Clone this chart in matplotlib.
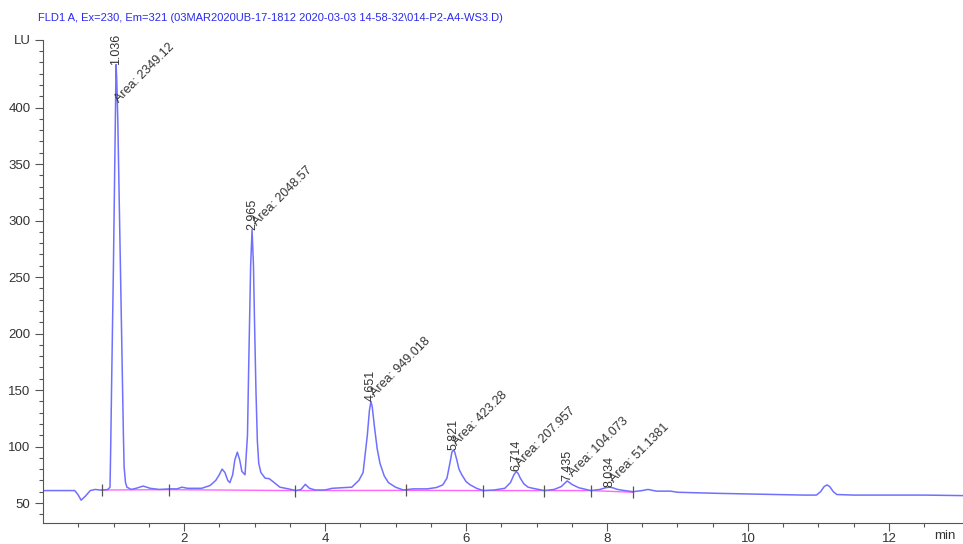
import matplotlib.pyplot as plt
import numpy as np

plt.rcParams['font.family'] = ['Liberation Sans', 'DejaVu Sans']

title = r'FLD1 A, Ex=230, Em=321 (03MAR2020UB-17-1812 2020-03-03 14-58-32\014-P2-A4-WS3.D)'

# trace (min, LU)
t = [0.00, 0.45, 0.50, 0.54, 0.60, 0.67, 0.74, 0.80, 0.86, 0.92, 0.95,
     0.96, 0.975, 0.997, 1.015, 1.028, 1.036, 1.045, 1.06, 1.08, 1.10,
     1.125, 1.14, 1.15, 1.17, 1.19, 1.25,
     1.32, 1.42, 1.52, 1.65, 1.80, 1.90, 1.97, 2.05, 2.15, 2.25, 2.37, 2.45,
     2.50, 2.54, 2.58, 2.62, 2.65, 2.69, 2.72, 2.756, 2.79, 2.82, 2.865,
     2.90, 2.92, 2.945, 2.965, 2.985, 3.00, 3.02, 3.04, 3.06,
     3.09, 3.15, 3.21, 3.28, 3.36, 3.48, 3.59, 3.66, 3.72, 3.78,
     3.86, 4.00, 4.10, 4.25, 4.38, 4.48, 4.54, 4.60, 4.63, 4.651, 4.67, 4.70,
     4.74, 4.78, 4.84, 4.90,
     5.00, 5.11, 5.25, 5.45, 5.58, 5.67, 5.73, 5.78, 5.80, 5.821, 5.84, 5.87,
     5.90, 5.94, 6.00, 6.06,
     6.15, 6.24, 6.40, 6.55, 6.63, 6.68, 6.714, 6.74, 6.77, 6.82, 6.88, 6.95,
     7.11, 7.25, 7.35, 7.40, 7.435, 7.47, 7.50, 7.55, 7.60, 7.77, 7.90, 7.98,
     8.034, 8.08, 8.15, 8.25,
     8.37, 8.50, 8.58, 8.70, 8.90, 9.00, 9.30, 9.60, 10.00, 10.40, 10.80,
     10.97, 11.03, 11.08, 11.12, 11.16, 11.21, 11.26, 11.50, 12.00, 12.50, 13.10]
lu = [61.0, 61.0, 57.0, 52.5, 56.0, 61.0, 62.0, 61.5, 61.5, 62.0, 64.0,
      100.0, 165.0, 253.0, 340.0, 410.0, 438.0, 425.0, 390.0, 320.0, 245.0,
      165.0, 110.0, 82.0, 68.0, 64.0, 62.0,
      63.0, 65.0, 63.0, 62.0, 62.5, 62.5, 64.0, 63.0, 63.0, 63.0, 65.5, 70.0,
      75.0, 80.0, 77.0, 70.0, 68.0, 75.0, 88.0, 95.0, 88.0, 78.0, 75.0,
      110.0, 180.0, 260.0, 292.0, 260.0, 210.0, 150.0, 105.0, 85.0,
      77.0, 72.0, 71.5, 68.0, 64.0, 62.5, 61.0, 62.0, 66.5, 63.0,
      61.5, 61.5, 63.0, 63.5, 64.0, 70.0, 77.0, 110.0, 132.0, 140.0, 135.0, 118.0,
      98.0, 85.0, 74.0, 68.0,
      64.0, 61.5, 62.5, 62.5, 63.7, 66.0, 72.0, 88.0, 95.0, 97.0, 95.0, 88.0,
      80.0, 75.0, 69.0, 66.0,
      63.0, 61.0, 61.5, 63.0, 68.0, 75.0, 78.0, 76.0, 72.0, 67.0, 64.0, 63.0,
      61.0, 62.0, 64.5, 67.5, 69.5, 68.0, 66.5, 65.0, 63.5, 61.0, 62.0, 63.5,
      64.0, 63.5, 62.0, 61.0,
      60.0, 61.0, 62.0, 60.5, 60.5, 59.5, 59.0, 58.5, 58.0, 57.5, 57.0,
      57.0, 60.0, 64.5, 66.0, 64.5, 60.0, 57.5, 57.0, 57.0, 57.0, 56.5]

# integrated peaks
rt = [1.036, 2.965, 4.651, 5.821, 6.714, 7.435, 8.034]
height = [438.0, 292.0, 140.0, 97.0, 78.0, 69.5, 64.0]
rt_labels = ['1.036', '2.965', '4.651', '5.821', '6.714', '7.435', '8.034']
area_labels = ['Area: 2349.12', 'Area: 2048.57', 'Area: 949.018',
               'Area: 423.28', 'Area: 207.957', 'Area: 104.073', 'Area: 51.1381']

# integration baseline and its boundaries
bound_t = [0.83, 1.79, 3.57, 5.15, 6.24, 7.11, 7.77, 8.37]
bound_lu = [61.5, 61.8, 61.0, 61.2, 61.0, 61.0, 61.0, 59.5]

area_offset = [(5, -41), (7, 1), (6, 2), (6, 2), (6, 2), (8, 2), (7, 2)]

fig = plt.figure(figsize=(9.63, 5.44), dpi=100)
ax = fig.add_axes([0.0447, 0.0386, 0.9553, 0.8884])

ax.plot(bound_t, bound_lu, color='#ff66ff', lw=1.0, zorder=1)
ax.plot(t, lu, color='#7070ff', lw=1.1, zorder=2)
ax.plot(bound_t, bound_lu, ls='none', marker='|', ms=8, mew=0.9,
        color='#555555', zorder=3)

for x, h, s, a, off in zip(rt, height, rt_labels, area_labels, area_offset):
    ax.text(x, h, s, rotation=90, ha='center', va='bottom',
            fontsize=9, color='#333333')
    ax.annotate(a, (x, h), xytext=off, textcoords='offset pixels',
                rotation=45, rotation_mode='anchor', ha='left', va='bottom',
                fontsize=9, color='#333333')

ax.set_xlim(0, 13.05)
ax.set_ylim(32.3, 460)
ax.set_xticks([2, 4, 6, 8, 10, 12])
ax.set_xticks(np.arange(0.5, 13.0, 0.5), minor=True)
ax.set_yticks([50, 100, 150, 200, 250, 300, 350, 400, 460])
ax.set_yticklabels(['50', '100', '150', '200', '250', '300', '350', '400', 'LU'])
ax.set_yticks(np.arange(40, 460, 10), minor=True)
ax.tick_params(which='major', length=6, width=0.8, color='#555555',
               labelsize=9.5, labelcolor='#333333', pad=3)
ax.tick_params(axis='x', which='major', pad=1)
ax.tick_params(which='minor', length=3, width=0.8, color='#555555')
ax.text(0.97, 0.015, 'min', transform=fig.transFigure,
        ha='left', va='center', fontsize=9.5, color='#333333')

for side in ['top', 'right']:
    ax.spines[side].set_visible(False)
for side in ['left', 'bottom']:
    ax.spines[side].set_color('#555555')
    ax.spines[side].set_linewidth(0.8)

fig.text(0.039, 0.967, title, fontsize=8, color='#2a2aee', ha='left', va='center')

fig.savefig('out.png', dpi=100)
